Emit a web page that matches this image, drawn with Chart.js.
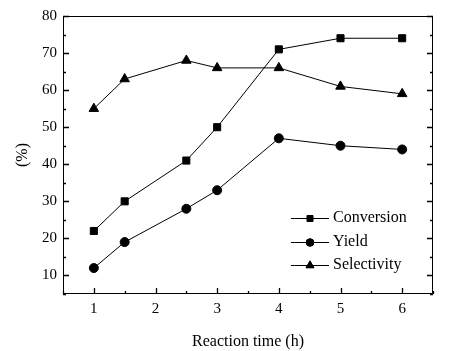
<!DOCTYPE html>
<html><head><meta charset="utf-8">
<script src="https://cdn.jsdelivr.net/npm/chart.js@4/dist/chart.umd.min.js"></script>
<style>html,body{margin:0;padding:0;background:#fff}#wrap{width:455px;height:351px}</style>
</head><body><div id="wrap"><canvas id="c" width="455" height="351"></canvas></div>
<script>
const times = [1, 1.5, 2.5, 3, 4, 5, 6];
const conversion = [22, 30, 41, 50, 71, 74, 74];
const yieldVals = [12, 19, 28, 33, 47, 45, 44];
const selectivity = [55, 63, 68, 66, 66, 61, 59];
const seriesNames = ['Conversion', 'Yield', 'Selectivity'];
const xTicks = [1, 2, 3, 4, 5, 6];
const yTicks = [10, 20, 30, 40, 50, 60, 70, 80];

const FONT = "'Liberation Serif', 'Times New Roman', serif";
const pts = arr => times.map((t, i) => ({x: t, y: arr[i]}));

const frameTicks = {
  id: 'frameTicks',
  afterDraw(chart) {
    const {ctx, chartArea: a, scales: {x, y}} = chart;
    ctx.save();
    ctx.strokeStyle = '#000';
    ctx.lineWidth = 1;
    ctx.beginPath();
    ctx.rect(a.left + 0.5, a.top + 0.5, a.right - a.left - 1, a.bottom - a.top - 1);
    ctx.stroke();
    ctx.lineWidth = 1.3;
    ctx.beginPath();
    for (let v = 0.5; v <= 6.5; v += 0.5) {
      const px = Math.round(x.getPixelForValue(v)) + 0.5;
      const len = Number.isInteger(v) ? 6 : 3;
      ctx.moveTo(px, a.bottom); ctx.lineTo(px, a.bottom - len);
    }
    for (let v = 5; v <= 80; v += 5) {
      const py = Math.round(y.getPixelForValue(v)) + 0.5;
      const len = v % 10 === 0 ? 6 : 3;
      ctx.moveTo(a.left, py); ctx.lineTo(a.left + len, py);
      ctx.moveTo(a.right, py); ctx.lineTo(a.right - len, py);
    }
    ctx.stroke();
    // legend inside plot
    const ds = chart.data.datasets;
    const lx0 = 291, lx1 = 329, tx = 333;
    const ys = [218, 242, 265];
    ctx.font = "16px " + FONT;
    ctx.textBaseline = 'middle';
    ctx.fillStyle = '#000';
    ds.forEach((d, i) => {
      const yy = ys[i] + 0.5;
      ctx.lineWidth = 1;
      ctx.beginPath(); ctx.moveTo(lx0, yy); ctx.lineTo(lx1, yy); ctx.stroke();
      Chart.helpers.drawPoint(ctx, {pointStyle: d.pointStyle, radius: d.pointRadius * 0.85, borderWidth: 1}, (lx0 + lx1) / 2, yy);
      ctx.fill();
      ctx.fillText(d.label, tx, ys[i]);
    });
    ctx.restore();
  }
};

const mk = (label, data, style, r) => ({
  label, data: pts(data), borderColor: '#000', backgroundColor: '#000',
  borderWidth: 1, pointStyle: style, pointRadius: r, pointBorderWidth: 1,
  pointBackgroundColor: '#000', pointBorderColor: '#000', tension: 0
});

new Chart(document.getElementById('c'), {
  type: 'line',
  data: {datasets: [
    mk(seriesNames[0], conversion, 'rect', 5),
    mk(seriesNames[1], yieldVals, 'circle', 4.5),
    mk(seriesNames[2], selectivity, 'triangle', 5.5)
  ]},
  options: {
    responsive: false, animation: false, devicePixelRatio: 1,
    layout: {padding: {top: 16, right: 22, left: 13, bottom: 0}},
    plugins: {legend: {display: false}, tooltip: {enabled: false}},
    scales: {
      x: {
        type: 'linear', min: 0.5, max: 6.5,
        afterBuildTicks: s => { s.ticks = xTicks.map(v => ({value: v})); },
        afterFit: s => { s.height = 57; },
        grid: {display: false, drawTicks: false},
        border: {display: false},
        ticks: {color: '#000', font: {family: FONT, size: 15}, padding: 6, maxRotation: 0},
        title: {display: true, text: 'Reaction time (h)', color: '#000', font: {family: FONT, size: 16}, padding: {top: 3, bottom: 0}}
      },
      y: {
        type: 'linear', min: 5, max: 80,
        afterBuildTicks: s => { s.ticks = yTicks.map(v => ({value: v})); },
        afterFit: s => { s.width = 50; },
        grid: {display: false, drawTicks: false},
        border: {display: false},
        ticks: {color: '#000', font: {family: FONT, size: 15}, padding: 6},
        title: {display: true, text: '(%)', color: '#000', font: {family: FONT, size: 16}, padding: {top: 0, bottom: 4}}
      }
    }
  },
  plugins: [frameTicks]
});
</script>
</body></html>
